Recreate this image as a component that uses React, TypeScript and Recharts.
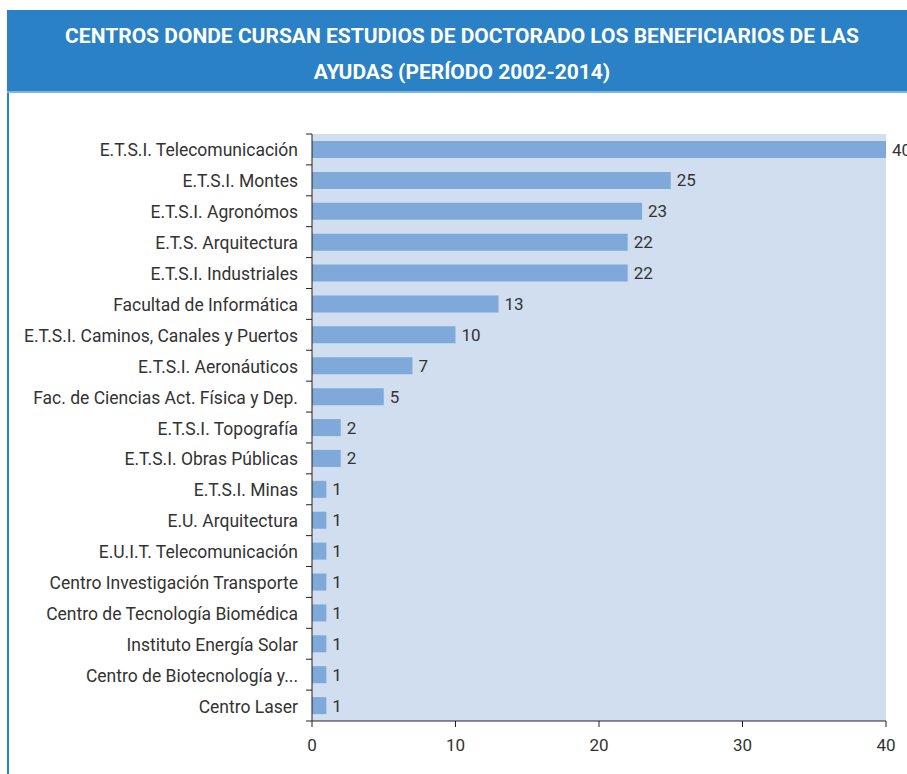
import React from "react";
import { BarChart, Bar, XAxis, YAxis, CartesianGrid, LabelList } from "recharts";

const categories = [
  "E.T.S.I. Telecomunicación",
  "E.T.S.I. Montes",
  "E.T.S.I. Agronómos",
  "E.T.S. Arquitectura",
  "E.T.S.I. Industriales",
  "Facultad de Informática",
  "E.T.S.I. Caminos, Canales y Puertos",
  "E.T.S.I. Aeronáuticos",
  "Fac. de Ciencias Act. Física y Dep.",
  "E.T.S.I. Topografía",
  "E.T.S.I. Obras Públicas",
  "E.T.S.I. Minas",
  "E.U. Arquitectura",
  "E.U.I.T. Telecomunicación",
  "Centro Investigación Transporte",
  "Centro de Tecnología Biomédica",
  "Instituto Energía Solar",
  "Centro de Biotecnología y...",
  "Centro Laser",
];
const values = [40, 25, 23, 22, 22, 13, 10, 7, 5, 2, 2, 1, 1, 1, 1, 1, 1, 1, 1];
const xTicks = [0, 10, 20, 30, 40];
const titleLines = [
  "CENTROS DONDE CURSAN ESTUDIOS DE DOCTORADO LOS BENEFICIARIOS DE LAS",
  "AYUDAS (PERÍODO 2002-2014)",
];

const data = categories.map((name, i) => ({ name, value: values[i] }));

const W = 907;
const H = 774;
const M = { top: 134, right: 21, bottom: 0, left: 12 };
const Y_W = 300;
const X_H = 53;
const plotH = H - M.top - M.bottom - X_H;
const band = plotH / categories.length;
const TICK_SIZE = 6;
const TICK_MARGIN = 8;
const FONT = "Roboto, 'DejaVu Sans', sans-serif";

const YTick = (props: any) => {
  const { x, y, payload, index } = props;
  const ax = x + TICK_SIZE + TICK_MARGIN;
  return (
    <g>
      <line x1={ax - TICK_SIZE} x2={ax} y1={y - band / 2} y2={y - band / 2} stroke="#222" strokeWidth={1} />
      {index === categories.length - 1 && (
        <line x1={ax - TICK_SIZE} x2={ax} y1={y + band / 2} y2={y + band / 2} stroke="#222" strokeWidth={1} />
      )}
      <text x={x} y={y} dy={7} textAnchor="end" fill="#333" fontSize={17.5} fontFamily={FONT}>
        {payload.value}
      </text>
    </g>
  );
};

export default function App() {
  return (
    <div style={{ position: "absolute", left: 0, top: 0, width: W, height: H, overflow: "hidden", background: "#fff" }}>
      <div
        style={{
          position: "absolute",
          left: 7,
          top: 10,
          width: 910,
          height: 83,
          background: "#2a81c5",
          borderBottom: "2px solid #7fb3e0",
          boxSizing: "border-box",
          display: "flex",
          flexDirection: "column",
          alignItems: "center",
          justifyContent: "center",
          color: "#fff",
          fontFamily: FONT,
          fontWeight: 700,
          fontSize: 21,
          lineHeight: "36px",
          paddingTop: 6,
        }}
      >
        {titleLines.map((t) => (
          <div key={t}>{t}</div>
        ))}
      </div>
      <div style={{ position: "absolute", left: 7, top: 93, width: 2, height: H - 93, background: "#2a81c5" }} />
      <div style={{ position: "absolute", left: 0, top: 0 }}>
        <BarChart width={W} height={H} data={data} layout="vertical" margin={M}>
          <CartesianGrid fill="#d0def0" horizontal={false} vertical={false} />
          <XAxis
            type="number"
            domain={[0, 40]}
            ticks={xTicks}
            height={X_H}
            stroke="#222"
            tickSize={TICK_SIZE}
            tickMargin={12}
            tick={{ fill: "#333", fontSize: 17, fontFamily: FONT }}
            interval={0}
          />
          <YAxis
            type="category"
            dataKey="name"
            width={Y_W}
            stroke="#222"
            tickLine={false}
            tickSize={TICK_SIZE}
            tickMargin={TICK_MARGIN}
            tick={<YTick />}
            interval={0}
          />
          <Bar dataKey="value" fill="#7fa9d9" barSize={17} isAnimationActive={false}>
            <LabelList dataKey="value" position="right" offset={6} fill="#333" fontSize={17} fontFamily={FONT} />
          </Bar>
        </BarChart>
      </div>
    </div>
  );
}
